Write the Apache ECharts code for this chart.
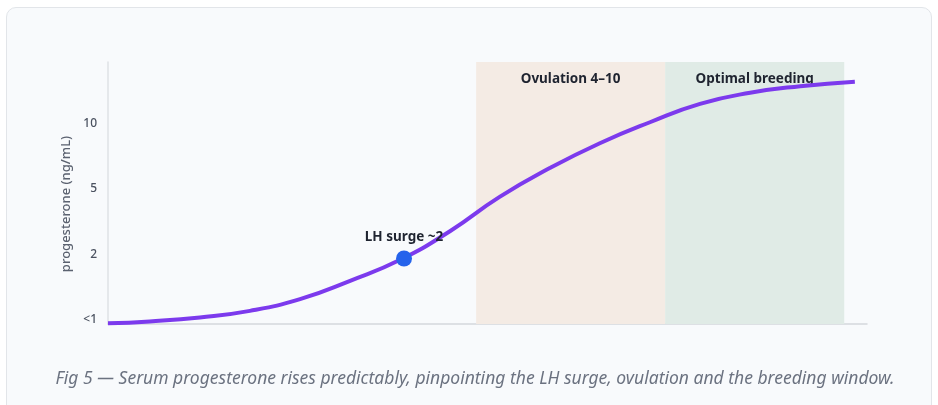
<!DOCTYPE html>
<html>
<head>
<meta charset="utf-8">
<script src="https://cdn.jsdelivr.net/npm/echarts@6/dist/echarts.min.js"></script>
<style>
  html, body { margin: 0; padding: 0; background: #ffffff; width: 938px; height: 405px; overflow: hidden; }
  #card { position: absolute; left: 6px; top: 7px; width: 924px; height: 420px; border: 1.5px solid #e2e5e9; border-radius: 10px; background: #f8fafc; }
  #chart { position: absolute; left: 0; top: 0; width: 938px; height: 405px; }
</style>
</head>
<body>
<div id="card"></div>
<div id="chart"></div>
<script>
// Curve (x: relative position along the cycle 0–100, y: progesterone level index 0="<1",1="2",2="5",3="10")
const curveX = [0, 5.5, 12.1, 18.7, 25.3, 31.9, 38.5, 45.1, 51.6, 58.2, 64.8, 71.4, 78.0, 84.6, 91.2, 98.4];
const curveY = [0.01, 0.04, 0.10, 0.20, 0.38, 0.66, 0.98, 1.42, 1.94, 2.38, 2.76, 3.08, 3.36, 3.53, 3.63, 3.70];
// y tick labels (evenly spaced levels)
const yTickLabels = ["<1", "2", "5", "10", ""];
// Marked point
const lhPoint = [39.0, 1.0];
const lhLabel = "LH surge ~2";
// Windows
const ovulationWindow = [48.5, 73.4];
const ovulationLabel = "Ovulation 4–10";
const breedingWindow = [73.4, 97.0];
const breedingLabel = "Optimal breeding";
const caption = "Fig 5 — Serum progesterone rises predictably, pinpointing the LH surge, ovulation and the breeding window.";
const yName = "progesterone (ng/mL)";

const FONT = "'Noto Sans', 'Open Sans', sans-serif";
const chart = echarts.init(document.getElementById('chart'), null, { renderer: 'canvas' });
const lineData = curveX.map((x, i) => [x, curveY[i]]);

chart.setOption({
  backgroundColor: 'transparent',
  animation: false,
  textStyle: { fontFamily: FONT },
  grid: { left: 108, right: 71, top: 62, bottom: 81 },
  xAxis: {
    type: 'value', min: 0, max: 100,
    axisLine: { show: true, lineStyle: { color: '#d4d7dc', width: 1.5 } },
    axisTick: { show: false }, axisLabel: { show: false }, splitLine: { show: false }
  },
  yAxis: {
    type: 'value', min: 0, max: 4, interval: 1,
    name: yName, nameLocation: 'middle', nameGap: 32, nameRotate: 90,
    nameTextStyle: { color: '#5b6270', fontSize: 13, fontWeight: 500, fontFamily: FONT, padding: [0, 22, 0, 0] },
    axisLine: { show: true, lineStyle: { color: '#dfe2e6', width: 1.5 } },
    axisTick: { show: false },
    splitLine: { show: false },
    axisLabel: {
      color: '#4b5260', fontSize: 12, fontWeight: 500, fontFamily: FONT, margin: 11,
      verticalAlign: 'bottom', lineHeight: 8,
      formatter: (v) => yTickLabels[Math.round(v)] || ''
    }
  },
  series: [
    {
      type: 'line', data: lineData, smooth: true, showSymbol: false, symbol: 'none',
      lineStyle: { color: '#7c3aed', width: 4 }, z: 3,
      markArea: {
        silent: true,
        label: { position: 'insideTop', distance: 10, color: '#1f2430', fontWeight: 700, fontSize: 13.5, fontFamily: FONT },
        data: [
          [{ xAxis: ovulationWindow[0], name: ovulationLabel, itemStyle: { color: '#f4ebe4' } }, { xAxis: ovulationWindow[1] }],
          [{ xAxis: breedingWindow[0], name: breedingLabel, itemStyle: { color: '#e0ebe6' } }, { xAxis: breedingWindow[1] }]
        ]
      }
    },
    {
      type: 'scatter', data: [lhPoint], symbolSize: 16, z: 5,
      itemStyle: { color: '#2563eb', opacity: 1 },
      emphasis: { disabled: true },
      label: { show: true, position: 'top', distance: 6, formatter: lhLabel, color: '#1f2430', fontWeight: 700, fontSize: 13.5, fontFamily: FONT }
    }
  ],
  graphic: [
    {
      type: 'text', x: 475, y: 379,
      style: { text: caption, fill: '#6b7280', align: 'center', verticalAlign: 'middle', font: "italic 17.5px 'Noto Sans', 'Open Sans', sans-serif" }
    }
  ]
});
</script>
</body>
</html>
